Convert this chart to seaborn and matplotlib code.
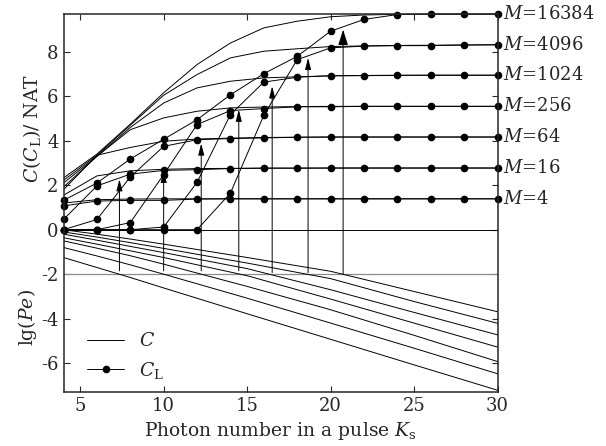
import pandas as pd
import seaborn as sns
import matplotlib.pyplot as plt
from matplotlib.lines import Line2D

# photon number grid of the capacity curves
K = [4, 6, 8, 10, 12, 14, 16, 18, 20, 22, 24, 26, 28, 30]
M_values = [4, 16, 64, 256, 1024, 4096, 16384]

# capacity C (nat), one list per M
C_4 = [1.20, 1.35, 1.38, 1.39, 1.39, 1.39, 1.39, 1.39, 1.39, 1.39, 1.39, 1.39, 1.39, 1.39]
C_16 = [1.55, 2.42, 2.65, 2.72, 2.75, 2.76, 2.77, 2.77, 2.77, 2.77, 2.77, 2.77, 2.77, 2.77]
C_64 = [1.80, 3.35, 3.70, 3.98, 4.08, 4.12, 4.15, 4.16, 4.17, 4.17, 4.17, 4.17, 4.17, 4.17]
C_256 = [1.92, 3.30, 4.50, 5.03, 5.33, 5.48, 5.52, 5.54, 5.55, 5.55, 5.55, 5.55, 5.55, 5.55]
C_1024 = [2.10, 3.30, 4.60, 5.70, 6.38, 6.68, 6.83, 6.88, 6.92, 6.94, 6.95, 6.95, 6.95, 6.95]
C_4096 = [2.22, 3.35, 4.70, 6.05, 6.98, 7.73, 8.03, 8.14, 8.24, 8.27, 8.29, 8.30, 8.31, 8.32]
C_16384 = [2.33, 3.40, 4.75, 6.16, 7.43, 8.40, 9.08, 9.38, 9.58, 9.66, 9.69, 9.70, 9.70, 9.70]

# limited capacity C_L (nat)
CL_4 = [1.07, 1.29, 1.32, 1.32, 1.38, 1.39, 1.39, 1.39, 1.39, 1.39, 1.39, 1.39, 1.39, 1.39]
CL_16 = [0.46, 1.97, 2.50, 2.67, 2.70, 2.75, 2.77, 2.77, 2.78, 2.78, 2.78, 2.78, 2.78, 2.78]
CL_64 = [0.00, 0.46, 2.37, 3.75, 4.05, 4.10, 4.13, 4.16, 4.17, 4.17, 4.17, 4.17, 4.17, 4.17]
CL_256 = [0.00, 0.00, 0.32, 2.48, 4.73, 5.36, 5.45, 5.53, 5.53, 5.55, 5.55, 5.55, 5.55, 5.55]
CL_1024 = [0.00, 0.00, 0.00, 0.12, 2.13, 5.18, 6.64, 6.86, 6.93, 6.93, 6.94, 6.95, 6.95, 6.95]
CL_4096 = [0.00, 0.00, 0.00, 0.00, 0.00, 1.65, 5.15, 7.65, 8.18, 8.26, 8.28, 8.28, 8.31, 8.32]
CL_16384 = [1.32, 2.10, 3.18, 4.07, 4.95, 6.07, 7.02, 7.80, 8.93, 9.46, 9.68, 9.70, 9.70, 9.70]

# error probability lg(Pe)
K_pe = [4, 6, 8, 10, 15, 20, 25, 30]
Pe_1 = [-1.25, -1.70, -2.15, -2.62, -3.78, -4.93, -6.08, -7.22]
Pe_2 = [-0.80, -1.18, -1.58, -2.00, -3.08, -4.20, -5.33, -6.48]
Pe_3 = [-0.50, -0.83, -1.17, -1.55, -2.55, -3.60, -4.75, -5.93]
Pe_4 = [-0.36, -0.65, -0.95, -1.25, -2.07, -3.12, -4.20, -5.28]
Pe_5 = [-0.20, -0.47, -0.75, -1.03, -1.75, -2.70, -3.72, -4.73]
Pe_6 = [-0.10, -0.33, -0.58, -0.84, -1.50, -2.20, -3.23, -4.21]
Pe_7 = [0.00, -0.20, -0.42, -0.65, -1.25, -1.87, -2.78, -3.69]

# arrows from lg(Pe) = -2 up to the C_L curves
arrow_x = [7.35, 10.0, 12.25, 14.5, 16.5, 18.65, 20.75]
arrow_bottom = [-1.85, -1.85, -1.85, -1.85, -1.93, -1.93, -2.0]
arrow_top = [2.27, 2.65, 3.88, 5.4, 6.45, 7.73, 9.0]

C_all = [C_4, C_16, C_64, C_256, C_1024, C_4096, C_16384]
CL_all = [CL_4, CL_16, CL_64, CL_256, CL_1024, CL_4096, CL_16384]
Pe_all = [Pe_1, Pe_2, Pe_3, Pe_4, Pe_5, Pe_6, Pe_7]

c_df = pd.DataFrame([(m, k, v) for m, vals in zip(M_values, C_all) for k, v in zip(K, vals)],
                    columns=['M', 'K', 'C'])
cl_df = pd.DataFrame([(m, k, v) for m, vals in zip(M_values, CL_all) for k, v in zip(K, vals)],
                     columns=['M', 'K', 'CL'])
pe_df = pd.DataFrame([(i, k, v) for i, vals in enumerate(Pe_all) for k, v in zip(K_pe, vals)],
                     columns=['line', 'K', 'lgPe'])

sns.set_style('ticks')
plt.rcParams['font.family'] = ['DejaVu Serif']
plt.rcParams['mathtext.fontset'] = 'dejavuserif'
plt.rcParams['axes.unicode_minus'] = False

fig = plt.figure(figsize=(6.06, 4.46), dpi=100)
ax = fig.add_axes([0.1048, 0.1211, 0.7162, 0.8475])

ax.axhline(0, color='black', lw=0.7)
ax.axhline(-2, color='0.55', lw=0.9)

sns.lineplot(data=c_df, x='K', y='C', units='M', estimator=None, color='black',
             lw=0.7, ax=ax, legend=False)
sns.lineplot(data=cl_df, x='K', y='CL', units='M', estimator=None, color='black',
             lw=0.7, marker='o', markersize=5.5, markeredgecolor='black',
             markeredgewidth=0, ax=ax, legend=False, clip_on=False)
sns.lineplot(data=pe_df, x='K', y='lgPe', units='line', estimator=None, color='black',
             lw=0.7, ax=ax, legend=False)

for i, (x, y0, y1) in enumerate(zip(arrow_x, arrow_bottom, arrow_top)):
    big = i == len(arrow_x) - 1
    style = '-|>,head_length=%.2f,head_width=%.2f' % ((0.95, 0.3) if big else (0.7, 0.18))
    ax.annotate('', xy=(x, y1), xytext=(x, y0),
                arrowprops=dict(arrowstyle=style, color='black', lw=0.7,
                                shrinkA=0, shrinkB=0, mutation_scale=10))

for m, vals in zip(M_values, CL_all):
    ax.text(30.35, vals[-1], '$M$=%d' % m, ha='left', va='center', fontsize=13)

ax.set_xlim(4, 30)
ax.set_ylim(-7.3, 9.704)
ax.set_xticks([5, 10, 15, 20, 25, 30])
ax.set_yticks([8, 6, 4, 2, 0, -2, -4, -6])
ax.tick_params(direction='in', top=True, right=True, length=4, width=0.8, labelsize=13)
for s in ax.spines.values():
    s.set_linewidth(1.1)

ax.set_xlabel('Photon number in a pulse $K_\\mathrm{s}$', fontsize=13.5)
ax.set_ylabel('')
fig.text(0.052, 0.713, '$C(C_\\mathrm{L})$/ NAT', rotation=90, ha='center', va='center', fontsize=13.5)
fig.text(0.045, 0.287, 'lg($Pe$)', rotation=90, ha='center', va='center', fontsize=13.5)

handles = [Line2D([], [], color='black', lw=0.7),
           Line2D([], [], color='black', lw=0.7, marker='o', markersize=5.5, markeredgewidth=0)]
ax.legend(handles, ['$C$', '$C_\\mathrm{L}$'], loc='lower left', bbox_to_anchor=(0.015, -0.015),
          frameon=False, fontsize=13.5, handlelength=2.0)

fig.savefig('out.png', dpi=100)
